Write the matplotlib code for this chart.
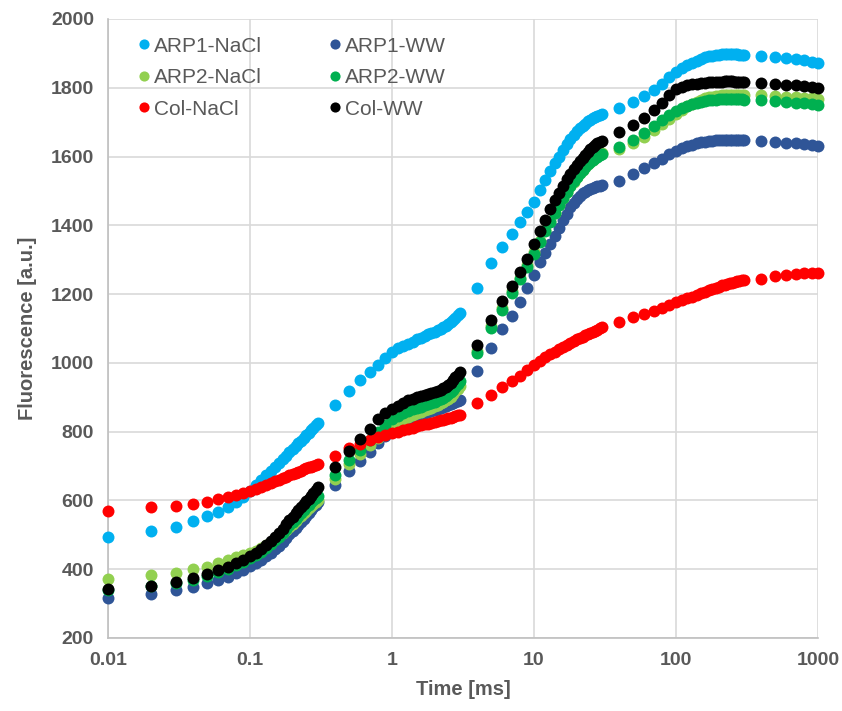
import matplotlib
matplotlib.use('Agg')
import matplotlib.pyplot as plt

# OJIP fluorescence transients, time in ms
time_ms = [
    0.01, 0.02, 0.03, 0.04, 0.05, 0.06, 0.07, 0.08, 0.09, 0.10,
    0.11, 0.12, 0.13, 0.14, 0.15, 0.16, 0.17, 0.18, 0.19, 0.20,
    0.21, 0.22, 0.23, 0.24, 0.25, 0.26, 0.27, 0.28, 0.29, 0.30,
    0.4, 0.5, 0.6, 0.7, 0.8, 0.9, 1.0,
    1.1, 1.2, 1.3, 1.4, 1.5, 1.6, 1.7, 1.8, 1.9, 2.0,
    2.1, 2.2, 2.3, 2.4, 2.5, 2.6, 2.7, 2.8, 2.9, 3.0,
    4, 5, 6, 7, 8, 9, 10,
    11, 12, 13, 14, 15, 16, 17, 18, 19, 20,
    21, 22, 23, 24, 25, 26, 27, 28, 29, 30,
    40, 50, 60, 70, 80, 90, 100,
    110, 120, 130, 140, 150, 160, 170, 180, 190, 200,
    210, 220, 230, 240, 250, 260, 270, 280, 290, 300,
    400, 500, 600, 700, 800, 900, 1000,
]

arp1_nacl = [
    495, 511, 523, 540, 555, 567, 580, 595, 610, 627,
    644, 659, 673, 686, 698, 709, 720, 730, 740, 749,
    758, 766, 774, 782, 790, 797, 804, 811, 818, 825,
    877, 917, 950, 972, 994, 1015, 1033,
    1043, 1050, 1056, 1062, 1068, 1073, 1078, 1083, 1087, 1091,
    1095, 1099, 1103, 1107, 1112, 1118, 1124, 1131, 1138, 1145,
    1218, 1289, 1336, 1375, 1411, 1440, 1468,
    1503, 1532, 1557, 1580, 1600, 1620, 1637, 1650, 1663, 1673,
    1682, 1690, 1696, 1702, 1707, 1711, 1715, 1718, 1721, 1724,
    1741, 1759, 1776, 1794, 1812, 1830, 1846,
    1857, 1866, 1873, 1879, 1884, 1888, 1891, 1893, 1895, 1896,
    1897, 1898, 1898, 1898, 1898, 1898, 1897, 1896, 1895, 1894,
    1893, 1889, 1886, 1883, 1880, 1876, 1872,
]

arp1_ww = [
    316, 327, 339, 349, 359, 369, 378, 389, 398, 410,
    419, 428, 438, 448, 458, 468, 479, 490, 501, 511,
    520, 529, 538, 547, 556, 564, 572, 580, 587, 594,
    645, 686, 715, 742, 768, 788, 804,
    816, 826, 834, 840, 845, 849, 853, 856, 859, 862,
    865, 868, 871, 874, 877, 880, 883, 886, 890, 893,
    976, 1044, 1099, 1137, 1178, 1217, 1255,
    1292, 1320, 1346, 1370, 1392, 1415, 1434, 1452, 1466, 1477,
    1486, 1493, 1498, 1502, 1506, 1509, 1511, 1513, 1515, 1517,
    1530, 1549, 1566, 1580, 1593, 1606, 1616,
    1624, 1630, 1635, 1638, 1641, 1643, 1645, 1646, 1647, 1648,
    1648, 1648, 1648, 1648, 1648, 1648, 1648, 1648, 1647, 1647,
    1646, 1643, 1640, 1638, 1636, 1634, 1631,
]

arp2_nacl = [
    371, 383, 390, 400, 407, 417, 427, 436, 441, 446,
    453, 461, 469, 478, 487, 496, 505, 514, 523, 532,
    540, 548, 556, 563, 570, 577, 583, 589, 595, 600,
    661, 706, 735, 760, 782, 800, 815,
    826, 835, 843, 849, 854, 858, 862, 866, 870, 874,
    878, 882, 886, 891, 896, 902, 909, 917, 925, 933,
    1035, 1106, 1160, 1208, 1248, 1285, 1322,
    1355, 1385, 1412, 1437, 1459, 1479, 1497, 1513, 1527, 1540,
    1551, 1561, 1570, 1578, 1585, 1591, 1597, 1602, 1607, 1611,
    1622, 1640, 1658, 1676, 1694, 1710, 1724,
    1736, 1746, 1754, 1760, 1765, 1769, 1772, 1774, 1776, 1777,
    1778, 1779, 1779, 1780, 1780, 1780, 1780, 1780, 1779, 1779,
    1778, 1776, 1774, 1772, 1771, 1769, 1767,
]

arp2_ww = [
    340, 350, 360, 370, 381, 392, 402, 412, 422, 432,
    441, 451, 462, 473, 484, 495, 506, 517, 528, 538,
    547, 556, 564, 572, 580, 588, 595, 602, 608, 614,
    674, 718, 748, 775, 798, 818, 836,
    846, 853, 860, 865, 869, 873, 877, 880, 884, 887,
    891, 895, 899, 904, 909, 915, 922, 930, 938, 946,
    1030, 1100, 1155, 1202, 1243, 1280, 1318,
    1352, 1383, 1410, 1436, 1458, 1478, 1497, 1514, 1528, 1541,
    1552, 1562, 1570, 1578, 1584, 1590, 1595, 1600, 1604, 1608,
    1627, 1648, 1669, 1689, 1706, 1720, 1731,
    1740, 1747, 1752, 1756, 1759, 1761, 1763, 1764, 1765, 1766,
    1766, 1766, 1766, 1766, 1766, 1766, 1766, 1766, 1766, 1765,
    1764, 1762, 1759, 1757, 1755, 1753, 1750,
]

col_nacl = [
    569, 580, 584, 590, 596, 603, 609, 616, 621, 626,
    633, 639, 645, 651, 656, 660, 665, 669, 673, 677,
    680, 684, 687, 690, 693, 696, 698, 701, 704, 706,
    729, 752, 765, 775, 783, 789, 795,
    800, 804, 808, 811, 815, 818, 821, 823, 826, 828,
    830, 833, 835, 837, 839, 841, 843, 845, 847, 849,
    882, 907, 930, 947, 963, 980, 995,
    1006, 1017, 1025, 1033, 1040, 1046, 1052, 1057, 1063, 1068,
    1072, 1076, 1080, 1084, 1088, 1091, 1094, 1097, 1100, 1103,
    1118, 1132, 1142, 1151, 1160, 1168, 1176,
    1182, 1188, 1193, 1198, 1203, 1207, 1211, 1215, 1219, 1222,
    1225, 1227, 1229, 1231, 1233, 1235, 1237, 1238, 1240, 1241,
    1245, 1252, 1256, 1259, 1260, 1261, 1261,
]

col_ww = [
    342, 352, 364, 374, 385, 397, 407, 418, 428, 437,
    447, 458, 470, 482, 493, 505, 518, 530, 542, 553,
    562, 571, 580, 589, 597, 605, 613, 621, 630, 638,
    696, 745, 778, 808, 836, 855, 866,
    876, 884, 891, 896, 900, 903, 906, 910, 913, 916,
    919, 922, 926, 930, 935, 942, 950, 958, 965, 972,
    1051, 1126, 1180, 1224, 1265, 1303, 1345,
    1383, 1416, 1447, 1474, 1494, 1515, 1534, 1550, 1564, 1576,
    1586, 1596, 1605, 1614, 1621, 1627, 1633, 1638, 1642, 1646,
    1670, 1692, 1712, 1734, 1757, 1778, 1795,
    1802, 1807, 1810, 1812, 1814, 1815, 1816, 1817, 1817, 1818,
    1818, 1819, 1819, 1819, 1819, 1818, 1818, 1818, 1817, 1817,
    1814, 1812, 1809, 1807, 1804, 1801, 1798,
]

series = [
    ('ARP1-NaCl', arp1_nacl, '#00B0F0'),
    ('ARP1-WW', arp1_ww, '#2F5597'),
    ('ARP2-NaCl', arp2_nacl, '#92D050'),
    ('ARP2-WW', arp2_ww, '#00B050'),
    ('Col-NaCl', col_nacl, '#FF0000'),
    ('Col-WW', col_ww, '#000000'),
]

grey = '#595959'
plt.rcParams['font.family'] = ['Liberation Sans', 'DejaVu Sans']

fig = plt.figure(figsize=(8.42, 7.11), dpi=100)
ax = fig.add_axes([0.128, 0.1027, 0.8435, 0.8706])

handles = {}
for i, (name, vals, colour) in enumerate(series):
    h, = ax.plot(time_ms, vals, 'o', color=colour, markersize=8.6,
                 markeredgewidth=0, clip_on=False, zorder=3 + i, label=name)
    handles[name] = h

ax.set_xscale('log')
ax.set_xlim(0.01, 1000)
ax.set_ylim(200, 2000)
ax.set_xticks([0.01, 0.1, 1, 10, 100, 1000])
ax.set_xticklabels(['0.01', '0.1', '1', '10', '100', '1000'])
ax.set_yticks(range(200, 2001, 200))
ax.minorticks_off()

ax.grid(True, color='#D9D9D9', linewidth=1.2)
ax.set_axisbelow(True)
for side in ['top', 'right']:
    ax.spines[side].set_visible(False)
for side in ['left', 'bottom']:
    ax.spines[side].set_color('#BFBFBF')
    ax.spines[side].set_linewidth(1.2)

ax.tick_params(length=0, pad=10, labelsize=14, labelcolor=grey)
for lab in ax.get_xticklabels() + ax.get_yticklabels():
    lab.set_fontweight('bold')

ax.set_xlabel('Time [ms]', fontsize=14.5, fontweight='bold', color=grey, labelpad=8)
ax.set_ylabel('Fluorescence [a.u.]', fontsize=14.5, fontweight='bold', color=grey, labelpad=10)

order = ['ARP1-NaCl', 'ARP2-NaCl', 'Col-NaCl', 'ARP1-WW', 'ARP2-WW', 'Col-WW']
leg = ax.legend([handles[n] for n in order], order, ncol=2, loc='upper left',
                bbox_to_anchor=(0.03, 0.985), frameon=False, fontsize=15,
                markerscale=0.85, handlelength=0.6, handletextpad=0.2,
                columnspacing=3.2, labelspacing=0.6, borderaxespad=0)
for t in leg.get_texts():
    t.set_color(grey)

fig.savefig('out.png', dpi=100)
